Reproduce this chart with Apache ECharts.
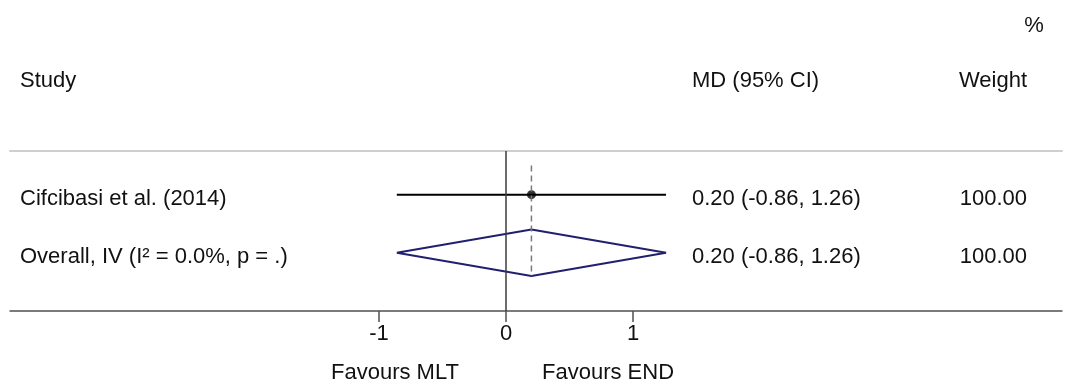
<!DOCTYPE html>
<html>
<head>
<meta charset="utf-8">
<script src="https://cdn.jsdelivr.net/npm/echarts@6/dist/echarts.min.js"></script>
<style>
  html, body { margin: 0; padding: 0; background: #fff; }
  #forestPlot { width: 1068px; height: 387px; }
</style>
</head>
<body>
<div id="forestPlot"></div>
<script>
// study rows
const studies = ['Cifcibasi et al. (2014)']
const studyMd = [0.20]
const studyLo = [-0.86]
const studyHi = [1.26]
const studyWeight = [100.00]

// pooled estimate
const overallLabel = 'Overall, IV (I\u00b2 = 0.0%, p = .)'
const overallMd = 0.20
const overallLo = -0.86
const overallHi = 1.26
const overallWeight = 100.00

const xTicks = [-1, 0, 1]

const FONT = '"Liberation Sans", Arial, sans-serif'
const TEXT_COLOR = '#111'

const chart = echarts.init(document.getElementById('forestPlot'))

const overallRow = studies.length + 1
const fmt = v => v.toFixed(2)

let series = []
studies.forEach((name, i) => {
  series.push({
    type: 'line',
    data: [[studyLo[i], i + 1], [studyHi[i], i + 1]],
    symbol: 'none',
    lineStyle: { color: '#000', width: 2 },
    silent: true
  })
})
series.push({
  type: 'scatter',
  data: studies.map((s, i) => [studyMd[i], i + 1]),
  symbol: 'circle',
  symbolSize: 9,
  itemStyle: { color: '#000' },
  silent: true
})
// diamond
series.push({
  type: 'line',
  data: [
    [overallLo, overallRow],
    [overallMd, overallRow - 0.4],
    [overallHi, overallRow],
    [overallMd, overallRow + 0.4],
    [overallLo, overallRow]
  ],
  symbol: 'none',
  lineStyle: { color: '#20206e', width: 2 },
  silent: true,
  markLine: {
    symbol: 'none',
    silent: true,
    label: { show: false },
    lineStyle: { color: '#3c3c3c', width: 1.5, type: 'solid' },
    data: [{ xAxis: 0 }]
  }
})
// dashed line at pooled estimate
series.push({
  type: 'line',
  data: [[overallMd, 0.5], [overallMd, overallRow + 0.4]],
  symbol: 'none',
  lineStyle: { color: '#7a7a7a', width: 1.5, type: [6, 4] },
  silent: true
})

let option = {
  animation: false,
  grid: { left: 10, right: 6, top: 151, height: 160 },
  xAxis: [
    {
      type: 'value',
      min: -3.906,
      max: 4.378,
      position: 'bottom',
      axisLine: { show: true, lineStyle: { color: '#505050', width: 1.5 } },
      axisTick: { show: true, customValues: xTicks, length: 11, lineStyle: { color: '#505050', width: 1.5 } },
      axisLabel: {
        customValues: xTicks,
        margin: 12,
        fontFamily: FONT,
        fontSize: 22,
        color: TEXT_COLOR
      },
      splitLine: { show: false }
    },
    {
      type: 'value',
      min: -3.906,
      max: 4.378,
      position: 'top',
      axisLine: { show: true, lineStyle: { color: '#cfcfcf', width: 2 } },
      axisTick: { show: false },
      axisLabel: { show: false },
      splitLine: { show: false }
    }
  ],
  yAxis: {
    type: 'value',
    inverse: true,
    min: 0.25,
    max: 3.0,
    show: false,
    splitLine: { show: false }
  },
  series: series
}

option && chart.setOption(option)

// text columns
const rowY = r => chart.convertToPixel({ yAxisIndex: 0 }, r) + 4
const txt = (x, y, text, align) => ({
  type: 'text',
  x: x,
  y: y,
  style: {
    text: text,
    fontFamily: FONT,
    fontSize: 22,
    fill: TEXT_COLOR,
    align: align || 'left',
    verticalAlign: 'middle'
  },
  silent: true
})

let texts = [
  txt(1034, 26, '%', 'center'),
  txt(20, 81, 'Study'),
  txt(692, 81, 'MD (95% CI)'),
  txt(1027, 81, 'Weight', 'right')
]
studies.forEach((name, i) => {
  const y = rowY(i + 1)
  texts.push(txt(20, y, name))
  texts.push(txt(692, y, fmt(studyMd[i]) + ' (' + fmt(studyLo[i]) + ', ' + fmt(studyHi[i]) + ')'))
  texts.push(txt(1027, y, fmt(studyWeight[i]), 'right'))
})
const oy = rowY(overallRow)
texts.push(txt(20, oy, overallLabel))
texts.push(txt(692, oy, fmt(overallMd) + ' (' + fmt(overallLo) + ', ' + fmt(overallHi) + ')'))
texts.push(txt(1027, oy, fmt(overallWeight), 'right'))
texts.push(txt(395, 373, 'Favours MLT', 'center'))
texts.push(txt(608, 373, 'Favours END', 'center'))

chart.setOption({ graphic: texts })

window.addEventListener('resize', function() {
  chart.resize()
})
</script>
</body>
</html>
